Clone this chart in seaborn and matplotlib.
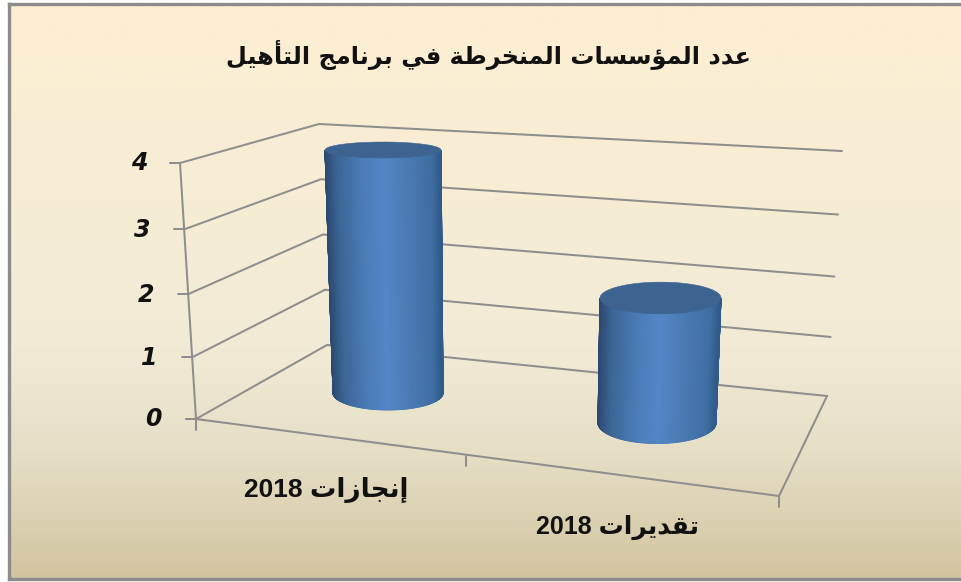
#!/bin/env python
# cylinder chart, fake 3D: bars come from seaborn, then get redrawn as cylinders
import re
import numpy as np
import matplotlib
matplotlib.use("Agg")
import matplotlib.pyplot as plt
from matplotlib.colors import LinearSegmentedColormap
import seaborn as sns

title = "عدد المؤسسات المنخرطة في برنامج التأهيل"
categories = ["إنجازات 2018", "تقديرات 2018"]
values = [4, 2]
value_ticks = [0, 1, 2, 3, 4]

W, H = 961, 582

# (isolated, final, initial, medial); matplotlib does no arabic shaping itself
FORMS = {
    "ا": (0xFE8D, 0xFE8E, None, None), "أ": (0xFE83, 0xFE84, None, None),
    "إ": (0xFE87, 0xFE88, None, None), "ؤ": (0xFE85, 0xFE86, None, None),
    "د": (0xFEA9, 0xFEAA, None, None), "ر": (0xFEAD, 0xFEAE, None, None),
    "ز": (0xFEAF, 0xFEB0, None, None), "ة": (0xFE93, 0xFE94, None, None),
    "ب": (0xFE8F, 0xFE90, 0xFE91, 0xFE92), "ت": (0xFE95, 0xFE96, 0xFE97, 0xFE98),
    "ج": (0xFE9D, 0xFE9E, 0xFE9F, 0xFEA0), "خ": (0xFEA5, 0xFEA6, 0xFEA7, 0xFEA8),
    "س": (0xFEB1, 0xFEB2, 0xFEB3, 0xFEB4), "ط": (0xFEC1, 0xFEC2, 0xFEC3, 0xFEC4),
    "ع": (0xFEC9, 0xFECA, 0xFECB, 0xFECC), "ف": (0xFED1, 0xFED2, 0xFED3, 0xFED4),
    "ق": (0xFED5, 0xFED6, 0xFED7, 0xFED8), "ل": (0xFEDD, 0xFEDE, 0xFEDF, 0xFEE0),
    "م": (0xFEE1, 0xFEE2, 0xFEE3, 0xFEE4), "ن": (0xFEE5, 0xFEE6, 0xFEE7, 0xFEE8),
    "ه": (0xFEE9, 0xFEEA, 0xFEEB, 0xFEEC), "ي": (0xFEF1, 0xFEF2, 0xFEF3, 0xFEF4),
}


def shape(text):
    """Join the letters and put them in visual order."""
    out = []
    for i, ch in enumerate(text):
        if ch not in FORMS:
            out.append(ch)
            continue
        prev = text[i - 1] if i > 0 else " "
        nxt = text[i + 1] if i < len(text) - 1 else " "
        joins_prev = prev in FORMS and FORMS[prev][2] is not None
        joins_next = nxt in FORMS and FORMS[ch][2] is not None
        if joins_prev and joins_next:
            code = FORMS[ch][3]
        elif joins_prev:
            code = FORMS[ch][1]
        elif joins_next:
            code = FORMS[ch][2]
        else:
            code = FORMS[ch][0]
        out.append(chr(code))
    visual = "".join(out)[::-1]
    return re.sub(r"\d+", lambda m: m.group()[::-1], visual)


sns.set_theme(style="white")
fig = plt.figure(figsize=(W / 100, H / 100), dpi=100, facecolor="white")

# background panel
bg = fig.add_axes([9 / W, 3 / H, (W - 9) / W, (H - 7) / H], zorder=0)
bg_cmap = LinearSegmentedColormap.from_list(
    "bg", [(0, "#fdeed2"), (0.2, "#f9eed4"), (0.6, "#f1ebd6"), (0.78, "#e6dfc6"),
           (0.88, "#ddd3b5"), (1, "#d1c4a0")], N=1024)
bg.imshow(np.linspace(0, 1, 582)[:, None], aspect="auto", cmap=bg_cmap, interpolation="bilinear")
bg.set_xticks([])
bg.set_yticks([])
for side, sp in bg.spines.items():
    sp.set_color("#8c8c8c")
    sp.set_linewidth(2.4)
bg.spines["right"].set_visible(False)

# the bars, on a full-figure axes scaled so categories/values land on the scene
ax = fig.add_axes([0, 0, 1, 1], zorder=1)
ax.patch.set_alpha(0)
sns.barplot(x=categories, y=values, color="#4f81bd", width=110 / 269, ax=ax)
ax.set_xlim(-388 / 269, (W - 388) / 269)
ax.set_ylim(-(H - 393) / 61.5, 393 / 61.5)
ax.axis("off")

# overlay in image pixels, y going down
scene = fig.add_axes([0, 0, 1, 1], zorder=2)
scene.patch.set_alpha(0)
scene.set_xlim(0, W)
scene.set_ylim(H, 0)
scene.axis("off")
scene.autoscale(False)


def to_px(cat, val):
    # axes scale plus the perspective drift of the fake 3D scene
    X, Y = ax.transData.transform((cat, val))
    X += val * (-1.25 + 3 * cat)
    Y = H - Y + 30 * cat - val * (-0.75 + 1.75 * cat)
    return X, Y


def persp(t):
    return t / (1.05 - 0.05 * t)


def lerp(a, b, t):
    return a + (b - a) * t


vmax = max(value_ticks)
GRID = "#8e8e8e"
LW = 1.45


def frame_line(xs, ys):
    scene.plot(xs, ys, color=GRID, lw=LW, zorder=2, solid_capstyle="round", solid_joinstyle="miter")


# walls and gridlines
for v in value_ticks:
    t = v / vmax
    front = (lerp(196, 180, persp(t)), lerp(419, 163, persp(t)))
    back = (lerp(327, 319, t), lerp(345, 124, t))
    right = (lerp(827, 842, persp(t)), lerp(396, 151, persp(t)))
    frame_line([front[0], back[0], right[0]], [front[1], back[1], right[1]])
    frame_line([front[0] - 10.5, front[0]], [front[1], front[1]])
    scene.text(front[0] - 43 + 2 * t, front[1] + 0.5, str(v), ha="center",
               va="center", fontsize=17, fontweight="bold", fontstyle="italic",
               family="DejaVu Sans", color="#111111", zorder=3)

frame_line([180, 196, 196], [163, 419, 430])
frame_line([196, 779, 827], [419, 496, 396])
frame_line([779, 779], [496, 507])
frame_line([466, 466], [456, 466])

# cylinders
cyl_cmap = LinearSegmentedColormap.from_list(
    "cyl", [(0, "#2f5a8a"), (0.08, "#3f6ea3"), (0.3, "#4a7bb3"), (0.5, "#5487c8"),
            (0.7, "#4a7bb5"), (0.9, "#3b6595"), (1, "#2c4a70")])

for cat, bar in enumerate(ax.patches):
    cx = bar.get_x() + bar.get_width() / 2
    val = bar.get_height()
    half = bar.get_width() / 2 * 269
    bar.set_visible(False)

    x0, y0 = to_px(cx, 0)
    x1, y1 = to_px(cx, val)
    r0 = half + 4 * cat
    r1 = r0 + 0.75 * val
    h0 = 2.44 + 0.037 * y0 + 2.4 * cat
    h1 = 2.44 + 0.037 * y1 + 2.4 * cat

    # body as a two-row mesh, bottom rim and top rim
    theta = np.linspace(np.pi, 0, 181)
    mesh_x = np.vstack([x0 + r0 * np.cos(theta), x1 + r1 * np.cos(theta)])
    mesh_y = np.vstack([y0 + h0 * np.sin(theta), y1 + h1 * np.sin(theta)])
    shade = np.vstack([(1 - np.cos(theta)) / 2] * 2)
    scene.pcolormesh(mesh_x, mesh_y, shade, shading="gouraud", cmap=cyl_cmap, vmin=0, vmax=1, zorder=4)

    ring = np.linspace(0, 2 * np.pi, 200)
    scene.fill(x1 + r1 * np.cos(ring), y1 + h1 * np.sin(ring), facecolor="#3d6490",
               edgecolor="#3d6490", lw=0.4, zorder=5)

# texts
scene.text(488.5, 55, shape(title), ha="center", va="center", fontsize=17.3,
           fontweight="bold", family="DejaVu Sans", color="#111111", zorder=6)
label_pos = [(326.5, 490), (617.5, 527)]
label_size = [19, 18]
for label, (lx, ly), fs in zip(categories, label_pos, label_size):
    scene.text(lx, ly, shape(label), ha="center", va="center", fontsize=fs,
               fontweight="bold", family=["Liberation Sans", "DejaVu Sans"], color="#111111", zorder=6)

fig.savefig("out.png", dpi=100)
